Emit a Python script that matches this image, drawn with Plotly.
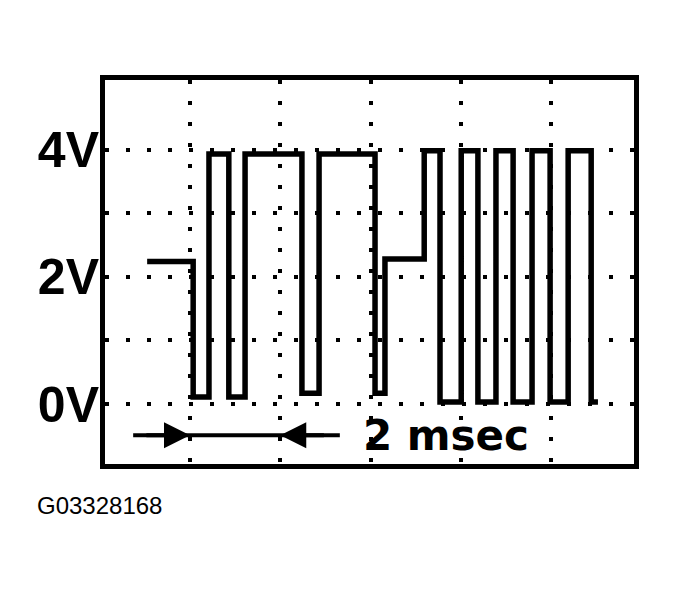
"""Scope trace: 4V square-wave burst, 2 msec per division."""

import plotly.graph_objects as go

# edge times (ms) and the level (V) held after each edge
edge_ms = [1.05, 2.07, 2.42, 2.86, 3.22, 4.48, 4.86, 6.10, 6.32,
           7.19, 7.54, 8.01, 8.38, 8.78, 9.16, 9.58, 9.98, 10.38,
           10.89, 11.04]
level_v = [2.24, 0.11, 3.93, 0.11, 3.93, 0.17, 3.93, 0.17, 2.28,
           3.98, 0.03, 3.98, 0.03, 3.98, 0.03, 3.98, 0.03, 3.98,
           0.03, 0.03]

y_ticks = [0, 1, 2, 3, 4]
y_labels = ["0V", "", "2V", "", "4V"]
x_ticks = [2, 4, 6, 8, 10]

# scale marker: arrows pointing at one 2 msec division
div_start, div_end = 2, 4
marker_y = -0.49
scale_text = "2 msec"
figure_id = "G03328168"

BLACK = "#000000"
HELV = "Liberation Sans, Arial, sans-serif"
NOTE_FONT = "DejaVu Sans, sans-serif"

# the page body adds an 8px margin round the plot div
BODY = 8
W, H = 679, 591
MARGIN = {"l": 105 - BODY, "r": W - (634 - BODY), "t": 80 - BODY,
          "b": H - (464 - BODY), "pad": 0}
plot_w = W - MARGIN["l"] - MARGIN["r"]
plot_h = H - MARGIN["t"] - MARGIN["b"]

fig = go.Figure(go.Scatter(
    x=edge_ms, y=level_v, mode="lines",
    line={"color": BLACK, "width": 5.5, "shape": "hv"},
    hoverinfo="skip", showlegend=False,
))

grid = dict(showgrid=True, gridcolor=BLACK, gridwidth=3.5,
            griddash="4px,17px", zeroline=False, showline=True,
            linecolor=BLACK, linewidth=5, mirror=True, ticks="")

fig.update_xaxes(range=[0.116, 11.839], tickvals=x_ticks,
                 showticklabels=False, **grid)
fig.update_yaxes(range=[-0.943, 5.094], tickvals=y_ticks,
                 ticktext=y_labels, ticklabelstandoff=-9,
                 tickfont={"family": HELV, "size": 50,
                           "color": BLACK, "weight": "bold"},
                 **grid)

# arrow shaft from left of the first head to right of the second
fig.add_shape(type="line", xref="x", yref="y",
              x0=div_start - 1.26, x1=div_end + 1.32,
              y0=marker_y, y1=marker_y,
              line={"color": BLACK, "width": 4})
for tip, tail in ((div_start, div_start - 1.0), (div_end, div_end + 1.0)):
    fig.add_annotation(x=tip, y=marker_y, ax=tail, ay=marker_y,
                       xref="x", yref="y", axref="x", ayref="y",
                       text="", showarrow=True, arrowhead=2,
                       arrowsize=1.3, arrowwidth=4, arrowcolor=BLACK,
                       standoff=0)
fig.add_annotation(x=div_end + 1.78, y=marker_y, xref="x", yref="y",
                   text=f"<b>{scale_text}</b>", showarrow=False,
                   xanchor="left", yanchor="middle",
                   font={"family": NOTE_FONT, "size": 42, "color": BLACK})

# figure id under the screen, placed from page pixels
fig.add_annotation(x=(35 - BODY - MARGIN["l"]) / plot_w,
                   y=1 - (505 - BODY - MARGIN["t"]) / plot_h,
                   xref="paper", yref="paper",
                   text=figure_id, showarrow=False,
                   xanchor="left", yanchor="middle",
                   font={"family": HELV, "size": 24, "color": BLACK})

fig.update_layout(
    width=W, height=H, margin=MARGIN,
    paper_bgcolor="white", plot_bgcolor="white",
)

fig.write_html("out.html")
